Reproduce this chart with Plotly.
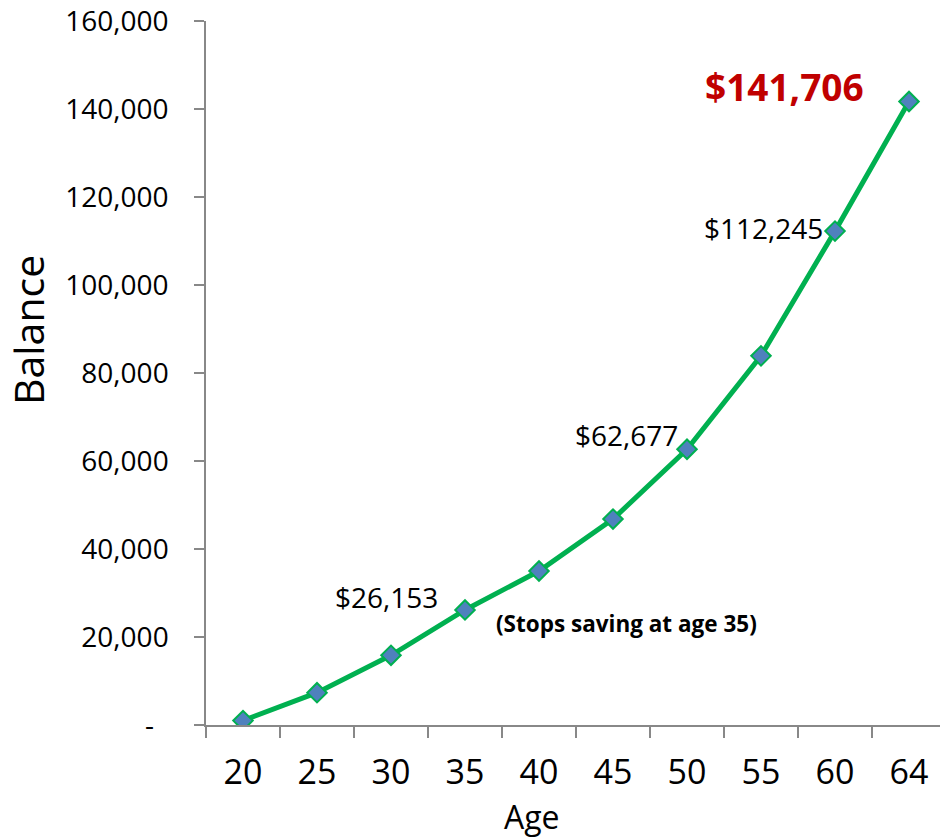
import plotly.graph_objects as go

ages = ["20", "25", "30", "35", "40", "45", "50", "55", "60", "64"]
balance = [1000, 7340, 15840, 26153, 35000, 46800, 62677, 83900, 112245, 141706]
y_ticks = [0, 20000, 40000, 60000, 80000, 100000, 120000, 140000, 160000]
y_tick_labels = ["-\u00a0\u00a0", "20,000", "40,000", "60,000", "80,000",
                 "100,000", "120,000", "140,000", "160,000"]

FONT = "Open Sans"
AXIS_GRAY = "#888888"

fig = go.Figure()
fig.add_trace(go.Scatter(
    x=ages, y=balance, mode="lines+markers",
    line=dict(color="#00B050", width=5),
    marker=dict(symbol="diamond", size=15, color="#4F81BD",
                line=dict(color="#00B050", width=2)),
    showlegend=False, hoverinfo="skip",
))

W, H = 940, 840
L, R, T, B = 206, 0, 21, 115
pw, ph = W - L - R, H - T - B

def px_x(px):
    return (px - L) / pw

def px_y(py):
    return (H - B - py) / ph

def idx(age):
    return ages.index(age)

annos = [
    dict(x=idx("35"), y=balance[idx("35")], text="$26,153", xanchor="right", yanchor="middle",
         xshift=-25, yshift=13, font=dict(size=28, color="black", family=FONT)),
    dict(x=idx("50"), y=balance[idx("50")], text="$62,677", xanchor="right", yanchor="middle",
         xshift=-7, yshift=14, font=dict(size=28, color="black", family=FONT)),
    dict(x=idx("60"), y=balance[idx("60")], text="$112,245", xanchor="right", yanchor="middle",
         xshift=-10, yshift=3, font=dict(size=28, color="black", family=FONT)),
    dict(x=idx("64"), y=balance[idx("64")], text="<b>$141,706</b>", xanchor="right", yanchor="middle",
         xshift=-43, yshift=15, font=dict(size=37, color="#C00000", family=FONT)),
    dict(x=idx("35"), y=balance[idx("35")], text="<b>(Stops saving at age 35)</b>", xanchor="left",
         yanchor="middle", xshift=29, yshift=-14,
         font=dict(size=22.5, color="black", family=FONT)),
]
for a in annos:
    a.update(xref="x", yref="y", showarrow=False)

annos.append(dict(xref="paper", yref="paper", x=px_x(28), y=px_y(330),
                  text="Balance", textangle=-90, showarrow=False,
                  xanchor="center", yanchor="middle",
                  font=dict(size=41, color="black", family=FONT)))
annos.append(dict(xref="paper", yref="paper", x=px_x(532), y=px_y(816),
                  text="Age", showarrow=False, xanchor="center", yanchor="middle",
                  font=dict(size=32, color="black", family=FONT)))

fig.update_layout(
    width=W, height=H,
    margin=dict(l=L, r=R, t=T, b=B, pad=0),
    paper_bgcolor="white", plot_bgcolor="white",
    font=dict(family=FONT, color="black"),
    annotations=annos,
    xaxis=dict(
        type="category", range=[-0.5, -0.5 + pw / 74.0],
        showgrid=False, zeroline=False,
        showline=True, linecolor=AXIS_GRAY, linewidth=1.5,
        ticks="outside", ticklen=11, tickcolor=AXIS_GRAY, tickwidth=1.5,
        tickson="boundaries", ticklabelstandoff=16,
        tickfont=dict(size=34, family=FONT, color="black"),
    ),
    yaxis=dict(
        range=[0, 160000], tickmode="array", tickvals=y_ticks, ticktext=y_tick_labels,
        showgrid=False, zeroline=False,
        showline=True, linecolor=AXIS_GRAY, linewidth=1.5,
        ticks="outside", ticklen=10, tickcolor=AXIS_GRAY, tickwidth=1.5,
        ticklabelstandoff=20,
        tickfont=dict(size=28, family=FONT, color="black"),
    ),
)

fig.write_html("out.html")
